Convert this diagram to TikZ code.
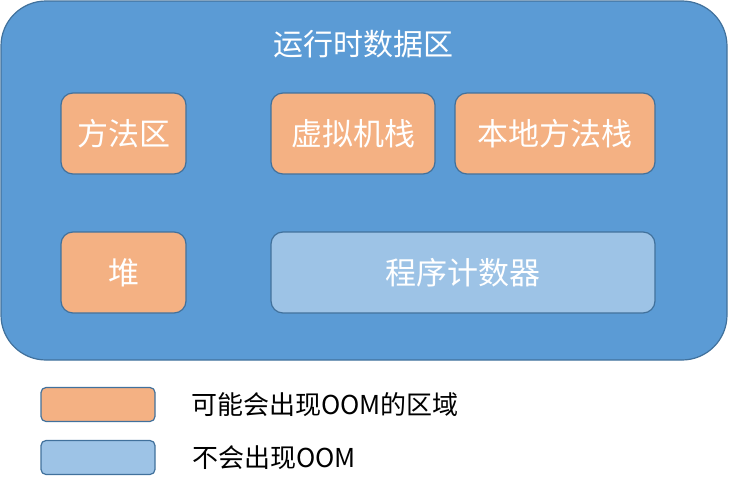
\documentclass[tikz,border=0pt]{standalone}
\usepackage{fontspec}
\setmainfont{Noto Sans CJK SC}
\usetikzlibrary{positioning}
\definecolor{areablue}{HTML}{5B9BD5}
\definecolor{edgeblue}{HTML}{41719C}
\definecolor{oomorange}{HTML}{F4B183}
\definecolor{safeblue}{HTML}{9DC3E6}

\begin{document}
\begin{tikzpicture}[
    x=1pt, y=-1pt,
    region/.style={rectangle, draw=edgeblue, line width=1.2pt, rounded corners=12pt, minimum height=81pt, align=center, text=white, font=\fontsize{31}{34}\selectfont, inner sep=0pt},
    oom/.style={region, fill=oomorange},
    safe/.style={region, fill=safeblue},
    legendbox/.style={rectangle, draw=edgeblue, line width=1.2pt, rounded corners=5pt, minimum width=114pt, minimum height=34pt, inner sep=0pt},
    legendtext/.style={anchor=west, font=\fontsize{26}{29}\selectfont, inner sep=0pt},
]
\useasboundingbox (0,0) rectangle (729,479);

% runtime data area
\node[rectangle, draw=edgeblue, line width=1.2pt, fill=areablue, rounded corners=45pt,
      minimum width=726pt, minimum height=359pt, inner sep=0pt] (area) at (364,180.5) {};
\node[text=white, font=\fontsize{30}{33}\selectfont] (title) at (363,44) {运行时数据区};

\node[oom, minimum width=125pt] (method) at (123.5,133.5) {方法区};
\node[oom, minimum width=164pt] (vmstack) at (353,133.5) {虚拟机栈};
\node[oom, minimum width=200pt] (native) at (555,133.5) {本地方法栈};
\node[oom, minimum width=125pt] (heap) at (123.5,272.5) {堆};
\node[safe, minimum width=384pt] (pc) at (463,272.5) {程序计数器};

% legend
\node[legendbox, fill=oomorange] (keyoom) at (98,404.5) {};
\node[legendbox, fill=safeblue] (keysafe) at (98,457.5) {};
\node[legendtext] (textoom) at (191,405) {可能会出现OOM的区域};
\node[legendtext] (textsafe) at (192,458) {不会出现OOM};

\end{tikzpicture}
\end{document}
